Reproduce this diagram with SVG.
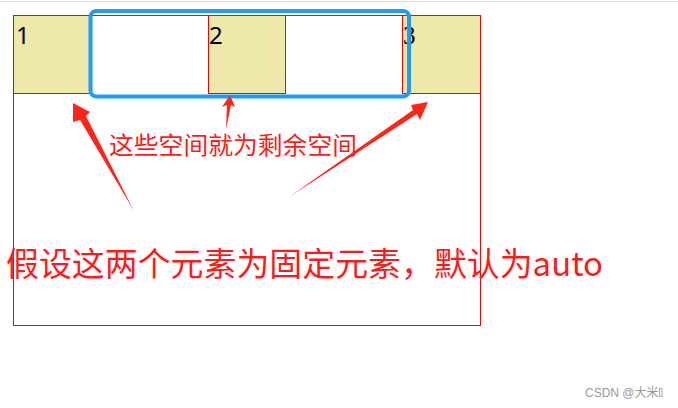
<svg xmlns="http://www.w3.org/2000/svg" width="678" height="408" viewBox="0 0 678 408">
  <style>
    .box { fill: #EEE8AA; stroke: #FF0000; stroke-width: 1; }
    .frame { fill: none; stroke: #FF0000; stroke-width: 1; }
    .num { font-family: "Noto Sans", "Liberation Sans", sans-serif; font-size: 24px; fill: #000; }
    .lbl { font-family: "Noto Sans CJK SC", "Noto Sans", sans-serif; fill: #FF1A1A; }
    .arrow { fill: #FF2418; stroke: none; }
  </style>
  <rect x="0" y="0" width="678" height="408" fill="#FFFFFF"/>
  <line x1="0" y1="1.5" x2="678" y2="1.5" stroke="#DDDDDD" stroke-width="1"/>

  <g id="container">
    <rect class="frame" x="13.5" y="15.5" width="467" height="310"/>
  </g>
  <g id="item1">
    <rect class="box" x="13.5" y="15.5" width="78" height="78"/>
    <text class="num" x="16" y="44">1</text>
  </g>
  <g id="item2">
    <rect class="box" x="208.5" y="15.5" width="77" height="78"/>
    <text class="num" x="209" y="44">2</text>
  </g>
  <g id="item3">
    <rect class="box" x="402.5" y="15.5" width="78" height="78"/>
    <text x="403" y="44" font-family="'Liberation Serif', serif" font-size="25" fill="#000">3</text>
  </g>
  <g id="highlight">
    <rect x="90.5" y="11" width="318.5" height="85.5" rx="6" ry="6" fill="none" stroke="#1E9BFF" stroke-width="4"/>
  </g>

  <g id="connectors">
    <polygon class="arrow" points="73,103 90,112 86,116 134,211 80,120 73,122"/>
    <polygon class="arrow" points="230,95 235,107 231,105 226,129 227,105 222,107"/>
    <polygon class="arrow" points="428,102 411,105 413,110 289,197 417,114 420,120"/>
  </g>

  <g id="label-space">
    <text class="lbl" x="109" y="154" font-size="24" textLength="248" lengthAdjust="spacingAndGlyphs">这些空间就为剩余空间</text>
  </g>
  <g id="label-fixed">
    <text class="lbl" x="6" y="276" font-size="33" textLength="597" lengthAdjust="spacingAndGlyphs">假设这两个元素为固定元素，默认为auto</text>
  </g>
  <g id="watermark">
    <text x="585" y="397" font-family="'Liberation Sans', 'Noto Sans CJK SC', sans-serif" font-size="12" fill="#999999">CSDN @大米</text>
    <rect x="659.5" y="388.5" width="2.5" height="8" fill="none" stroke="#999999" stroke-width="0.8"/>
  </g>
</svg>
